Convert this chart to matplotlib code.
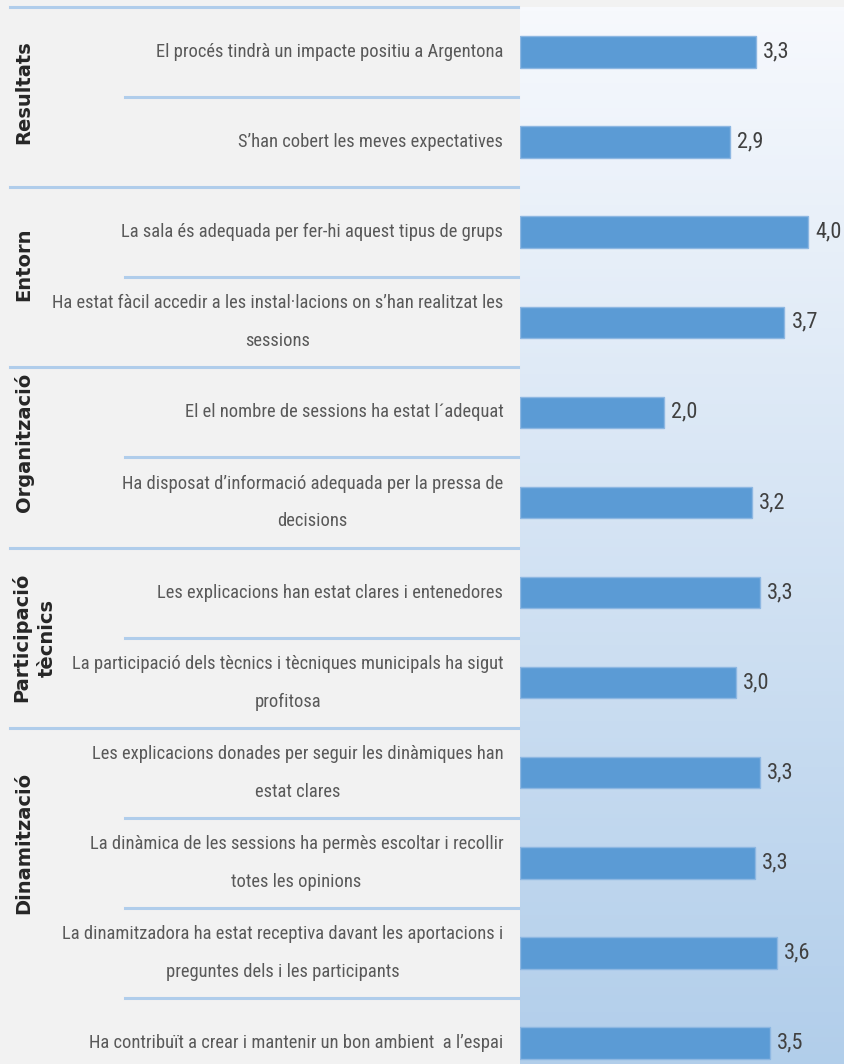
import numpy as np
import matplotlib.pyplot as plt
from matplotlib.transforms import blended_transform_factory

# survey items, top to bottom
labels = [
    "El procés tindrà un impacte positiu a Argentona",
    "S\u2019han cobert les meves expectatives",
    "La sala és adequada per fer-hi aquest tipus de grups",
    "Ha estat fàcil accedir a les instal·lacions on s\u2019han realitzat les\nsessions",
    "El el nombre de sessions ha estat l\u00b4adequat",
    "Ha disposat d\u2019informació adequada per la pressa de\ndecisions",
    "Les explicacions han estat clares i entenedores",
    "La participació dels tècnics i tècniques municipals ha sigut\nprofitosa",
    "Les explicacions donades per seguir les dinàmiques han\nestat clares",
    "La dinàmica de les sessions ha permès escoltar i recollir\ntotes les opinions",
    "La dinamitzadora ha estat receptiva davant les aportacions i\npreguntes dels i les participants",
    "Ha contribuït a crear i mantenir un bon ambient  a l\u2019espai",
]
values = [3.27, 2.92, 4.0, 3.67, 2.0, 3.22, 3.33, 3.0, 3.33, 3.26, 3.56, 3.47]
groups = ["Resultats", "Entorn", "Organització", "Participació\ntècnics", "Dinamització"]
group_sizes = [2, 2, 2, 2, 4]

TXT_FONT = ['Liberation Sans Narrow', 'Roboto Condensed', 'Open Sans Condensed', 'DejaVu Sans']
GRP_FONT = ['DejaVu Sans']
BAR_COLOR = '#5b9bd5'
LINE_COLOR = '#b0cdeb'

W, H = 845, 1064
fig = plt.figure(figsize=(W / 100, H / 100), dpi=100, facecolor='#f2f2f2')

# plot area: left edge at x=520 px, top at y=7 px, bottom runs past the picture
ax_left, ax_top, ax_bottom = 520, 7, 1088
ax = fig.add_axes([ax_left / W, 1 - ax_bottom / H, 1 - ax_left / W, (ax_bottom - ax_top) / H])
n = len(labels)
y = np.arange(n)
ax.set_xlim(0, 4.51)
ax.set_ylim(n - 0.5, -0.5)

# vertical gradient background
top_c = np.array([247, 249, 253]) / 255
bot_c = np.array([176, 205, 234]) / 255
t = np.linspace(0, 1, 256)[:, None]
grad = (top_c * (1 - t) + bot_c * t)[:, None, :]
ax.imshow(grad, extent=[0, 4.51, n - 0.5, -0.5], aspect='auto', zorder=0)

ax.barh(y, values, height=0.35, color=BAR_COLOR, edgecolor='#8db7e2', linewidth=1, zorder=2)
for yi, v in zip(y, values):
    ax.annotate(f"{v:.1f}".replace('.', ','), xy=(v, yi), xytext=(5, 0), textcoords='offset points',
                ha='left', va='center', fontsize=16, color='#404040', family=TXT_FONT)

ax.set_axis_off()

# category labels on the left
for yi, lab in zip(y, labels):
    ax.annotate(lab, xy=(0, yi), xycoords=('axes fraction', 'data'), xytext=(-12, 0),
                textcoords='offset points', ha='right', va='center', multialignment='center',
                linespacing=2.4, fontsize=13.3, color='#595959', family=TXT_FONT)

# separator lines and group labels
tr = blended_transform_factory(fig.transFigure, ax.transData)
x_end = 518 / W
ax.plot([10 / W, x_end], [-0.5, -0.5], transform=tr, color=LINE_COLOR, lw=2.2, clip_on=False)
label_shift = [-0.06, -0.14, -0.17, 0.0, -0.72]
start = 0
for g, size, sh in zip(groups, group_sizes, label_shift):
    end = start + size
    for k in range(start, end - 1):
        ax.plot([125 / W, x_end], [k + 0.5, k + 0.5], transform=tr, color=LINE_COLOR, lw=2.2, clip_on=False)
    if end < n:
        ax.plot([10 / W, x_end], [end - 0.5, end - 0.5], transform=tr, color=LINE_COLOR, lw=2.2, clip_on=False)
    gx = 34 / W if '\n' in g else 24 / W
    ax.text(gx, (start + end - 1) / 2 + sh, g, transform=tr, rotation=90, ha='center', va='center',
            multialignment='center', linespacing=1.4, fontsize=14, fontweight='bold',
            color='#262626', family=GRP_FONT)
    start = end

fig.savefig('out.png', dpi=100, facecolor=fig.get_facecolor())
